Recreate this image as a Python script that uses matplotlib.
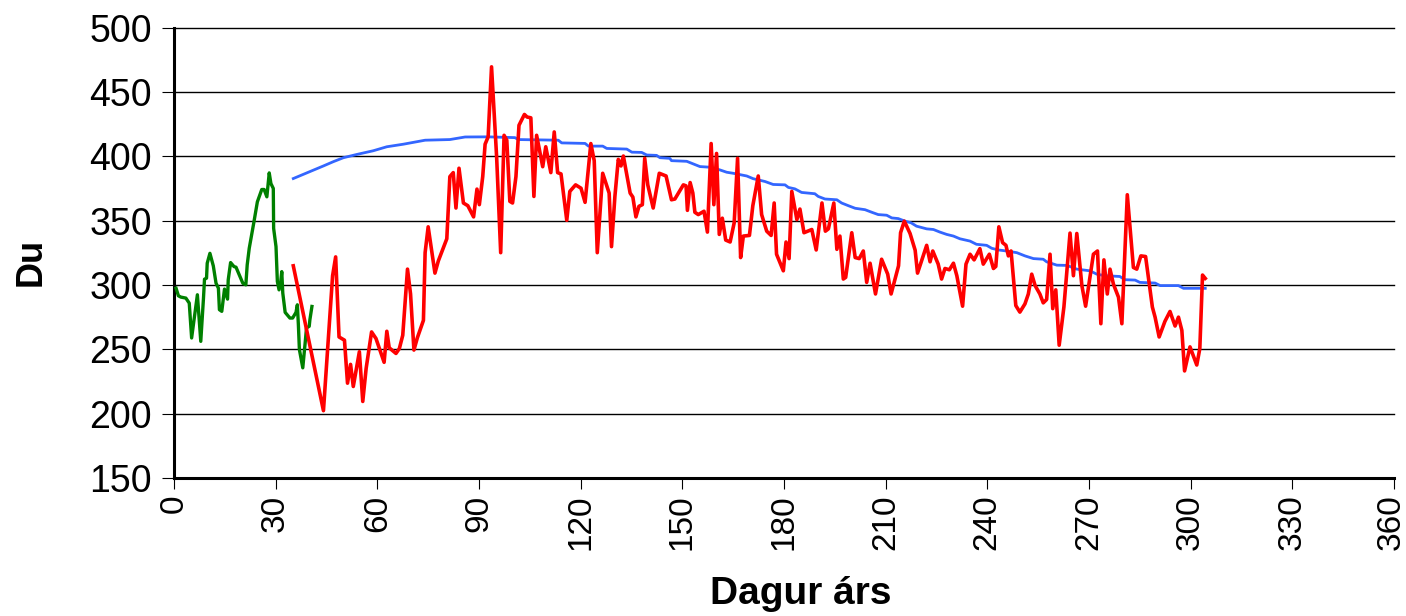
import matplotlib
matplotlib.use("Agg")
import matplotlib.pyplot as plt
import matplotlib.transforms as mtransforms

plt.rcParams['font.family'] = ['Liberation Sans', 'DejaVu Sans']

# ---- data ----
green_day = [0.6, 1.3, 2.0, 3.5, 4.5, 5.2, 6.9, 7.9, 8.7, 9.0, 9.6, 9.8, 10.6, 11.6, 12.4,
             13.1, 13.4, 14.1, 14.9, 15.8, 16.0, 16.7, 17.7, 18.3, 20.3, 21.2, 21.6, 22.2,
             23.6, 24.6, 25.9, 26.6, 27.4, 28.1, 28.6, 29.3, 29.4, 30.1, 30.5, 31.0, 31.5,
             31.8, 32.1, 32.8, 34.2, 35.0, 36.0, 36.4, 36.7, 37.0, 38.0, 38.7, 39.1, 39.9,
             40.1, 40.7]
green_du = [297.5, 291.6, 290.6, 289.8, 285.9, 258.8, 292.4, 256.2, 289.8, 304.5, 305.3,
            316.9, 324.6, 314.8, 301.4, 297.5, 280.8, 279.5, 296.8, 289.0, 304.0, 317.4,
            314.3, 313.8, 301.4, 300.1, 315.6, 328.5, 349.2, 364.6, 374.2, 374.2, 368.5,
            387.1, 378.8, 375.0, 344.0, 329.8, 302.7, 296.2, 302.7, 310.4, 293.7, 278.7,
            274.3, 274.3, 278.7, 284.6, 269.1, 249.8, 235.6, 255.0, 266.6, 267.9, 273.0,
            283.3]

red_day = [35.2, 44.1, 46.8, 47.7, 48.7, 50.3, 51.2, 52.1, 52.9, 54.7, 55.7, 56.7, 58.3,
           59.6, 62.0, 62.8, 63.5, 65.5, 66.5, 67.5, 68.9, 69.8, 70.8, 71.8, 73.6, 74.1,
           75.0, 77.0, 78.0, 80.5, 81.4, 82.4, 83.2, 84.1, 85.4, 86.7, 88.4, 89.4, 90.1,
           91.1, 91.8, 92.7, 93.7, 95.2, 96.4, 97.4, 98.2, 99.1, 99.9, 100.9, 101.8, 103.4,
           104.2, 105.3, 106.2, 107.0, 108.8, 109.7, 111.2, 112.2, 113.2, 114.2, 115.9,
           116.8, 118.5, 120.1, 121.3, 123.0, 124.0, 124.9, 126.5, 128.4, 129.1, 130.1,
           131.1, 131.9, 132.6, 134.6, 135.4, 136.3, 137.2, 138.2, 138.9, 139.8, 141.4,
           143.2, 145.2, 146.8, 147.8, 150.3, 151.1, 151.5, 152.3, 153.1, 153.7, 154.7,
           156.4, 157.4, 158.5, 159.3, 160.1, 160.9, 161.8, 162.8, 164.1, 165.3, 166.3,
           167.2, 168.0, 169.8, 170.8, 172.4, 173.4, 174.9, 176.2, 177.1, 177.8, 179.8,
           180.6, 181.5, 182.3, 183.8, 184.7, 185.9, 188.2, 189.5, 191.2, 192.2, 193.1,
           194.7, 195.6, 196.5, 197.5, 198.2, 200.0, 201.0, 202.2, 203.4, 204.4, 205.4,
           207.0, 208.8, 210.6, 211.6, 213.8, 214.4, 215.5, 217.2, 218.7, 219.4, 220.6,
           222.1, 223.1, 223.9, 225.5, 226.5, 227.5, 228.8, 230.0, 231.0, 232.7, 233.7,
           234.9, 236.1, 237.8, 238.8, 240.6, 241.8, 242.5, 243.4, 244.5, 245.5, 246.2,
           247.0, 248.4, 249.6, 251.1, 252.1, 253.1, 254.1, 255.5, 256.5, 257.5, 258.5,
           259.3, 260.2, 261.2, 262.6, 264.4, 265.4, 266.4, 267.9, 269.0, 271.3, 272.5,
           273.5, 274.4, 275.4, 276.2, 277.2, 278.7, 279.7, 281.3, 283.1, 284.1, 285.3,
           286.7, 288.7, 289.5, 290.7, 292.4, 293.9, 295.4, 296.4, 297.4, 298.2, 299.8,
           301.8, 302.7, 303.5, 304.3]
red_du = [314.9, 202.3, 307.2, 321.8, 259.6, 257.1, 223.7, 238.3, 221.1, 248.1, 209.5,
          235.2, 263.5, 258.4, 239.9, 264.0, 251.2, 246.8, 250.6, 260.9, 312.3, 293.0,
          249.4, 258.9, 272.5, 325.1, 345.2, 309.2, 318.7, 335.9, 384.2, 387.3, 359.8,
          390.7, 363.7, 361.6, 352.9, 374.5, 362.4, 384.2, 409.4, 415.1, 469.5, 399.6,
          325.1, 416.3, 412.5, 365.0, 363.7, 384.2, 424.1, 432.5, 430.5, 429.9, 368.8,
          416.3, 391.9, 407.4, 387.3, 418.9, 387.3, 386.3, 350.3, 372.7, 377.8, 375.2,
          364.2, 409.9, 396.6, 325.1, 386.8, 371.4, 329.8, 368.8, 397.6, 392.5, 400.2,
          371.4, 368.3, 352.9, 361.1, 362.4, 398.4, 377.8, 359.8, 386.8, 384.7, 366.2,
          366.8, 377.8, 377.0, 358.0, 379.6, 371.4, 356.5, 354.7, 357.3, 341.1, 409.9,
          362.4, 402.2, 339.3, 351.9, 334.9, 333.4, 348.3, 398.4, 321.3, 338.0, 338.5,
          361.6, 384.7, 354.7, 341.8, 338.5, 363.7, 323.9, 311.0, 333.4, 320.5, 372.7,
          350.8, 359.0, 340.6, 343.1, 327.2, 363.7, 341.8, 343.6, 363.7, 327.7, 338.0,
          304.6, 305.9, 340.6, 321.3, 320.5, 326.4, 302.0, 316.9, 293.0, 320.0, 308.4,
          293.0, 314.9, 340.6, 349.6, 340.0, 327.0, 309.2, 318.7, 330.8, 318.0, 326.4,
          316.2, 304.6, 312.8, 311.8, 316.9, 307.2, 283.5, 316.2, 323.9, 319.5, 328.2,
          316.2, 323.9, 312.8, 314.4, 345.2, 332.9, 330.8, 322.6, 326.4, 284.0, 278.9,
          285.3, 293.0, 308.4, 299.5, 293.0, 286.1, 288.7, 323.9, 281.6, 296.2, 253.2,
          283.0, 340.3, 307.2, 340.0, 299.5, 283.5, 323.9, 326.4, 269.9, 319.5, 293.0,
          312.3, 300.7, 290.5, 269.9, 370.1, 313.6, 312.3, 322.6, 322.1, 282.8, 275.0,
          259.6, 271.7, 279.4, 268.1, 275.0, 264.7, 233.2, 251.9, 237.8, 250.6, 307.7,
          305.1]

blue_day = [35.2, 40.1, 44.1, 47.0, 50.0, 53.9, 58.8, 62.8, 67.7, 74.1, 81.4, 85.9, 92.7,
            100.6, 101.6, 113.4, 114.4, 121.3, 122.3, 126.5, 127.7, 133.6, 135.1, 138.0,
            139.5, 142.4, 143.4, 146.3, 146.8, 151.3, 153.2, 155.2, 158.2, 161.1, 163.1,
            165.0, 169.0, 170.9, 174.4, 176.8, 180.3, 181.3, 183.2, 185.2, 189.1, 190.1,
            192.1, 195.6, 197.0, 199.0, 201.0, 203.9, 205.9, 207.8, 210.3, 211.8, 213.7,
            215.7, 217.5, 219.1, 222.1, 224.1, 226.0, 228.0, 230.0, 231.9, 234.9, 236.8,
            239.8, 241.3, 243.3, 245.7, 248.7, 251.1, 253.6, 256.5, 257.5, 260.5, 263.5,
            266.4, 270.3, 272.3, 274.7, 279.1, 280.6, 283.6, 285.0, 289.5, 291.0, 296.4,
            297.9, 304.3]
blue_du = [382.7, 388.1, 392.5, 395.8, 398.9, 401.4, 404.3, 407.4, 409.4, 412.5, 413.0,
           415.0, 415.1, 414.5, 413.0, 412.5, 410.4, 410.0, 407.9, 407.9, 406.1, 405.6,
           403.2, 403.0, 401.0, 400.7, 398.9, 398.4, 396.6, 396.1, 394.1, 392.0, 391.5,
           389.4, 387.6, 386.8, 384.7, 382.6, 380.4, 378.1, 377.8, 375.8, 374.7, 371.9,
           370.9, 368.8, 366.8, 366.2, 363.7, 361.6, 359.6, 358.5, 356.5, 354.7, 354.2,
           352.1, 351.6, 349.6, 348.3, 345.7, 343.6, 343.1, 341.1, 339.3, 338.0, 335.9,
           334.1, 331.6, 330.8, 328.5, 327.2, 326.4, 325.1, 322.6, 320.5, 320.0, 318.0,
           315.4, 315.2, 312.3, 311.0, 308.4, 307.2, 306.6, 304.1, 303.8, 302.0, 301.5,
           299.5, 299.5, 297.4, 297.4]

x_ticks = list(range(0, 361, 30))
y_ticks = list(range(150, 501, 50))

# ---- figure ----
fig = plt.figure(figsize=(14.06, 6.16), dpi=100)
ax = fig.add_axes([174/1406, 1 - 478/616, (1394 - 174)/1406, (478 - 27.6)/616])

ax.set_xlim(0, 360)
ax.set_ylim(150, 500)
ax.set_xticks(x_ticks)
ax.set_yticks(y_ticks)

for v in y_ticks[1:]:
    ax.axhline(v, color='black', lw=1.0, zorder=1, clip_on=False)

ax.plot(blue_day, blue_du, color='#3366FF', lw=2.0, zorder=3, solid_joinstyle='round')
ax.plot(green_day, green_du, color='#008000', lw=2.4, zorder=4, solid_joinstyle='round')
ax.plot(red_day, red_du, color='#FF0000', lw=2.6, zorder=5, solid_joinstyle='round')

for s in ['top', 'right']:
    ax.spines[s].set_visible(False)
for s in ['left', 'bottom']:
    ax.spines[s].set_linewidth(2.2)
    ax.spines[s].set_color('black')

ax.tick_params(axis='y', direction='out', length=9, width=0.8, pad=7,
               labelsize=27, colors='black')
ax.tick_params(axis='x', direction='out', length=8, width=0.8, pad=4,
               labelsize=24, colors='black')
xlabels = ax.get_xticklabels()
for lbl in xlabels:
    lbl.set_rotation(90)
# keep the last rotated label inside the picture
shift = mtransforms.ScaledTranslation(-3/100, 0, fig.dpi_scale_trans)
xlabels[-1].set_transform(xlabels[-1].get_transform() + shift)

ax.set_ylabel('Du', fontsize=26, fontweight='bold')
ax.yaxis.set_label_coords(-0.103, 0.48)
ax.set_xlabel('Dagur árs', fontsize=28, fontweight='bold')
ax.xaxis.set_label_coords(0.514, -0.218)

fig.savefig('out.png', dpi=100)
